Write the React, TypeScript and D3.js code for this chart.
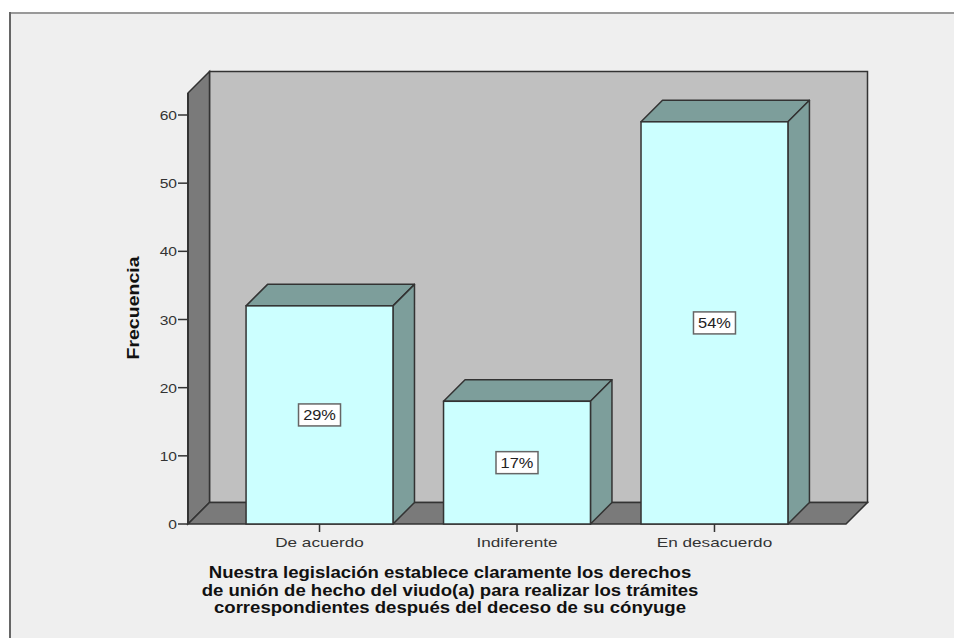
import React, { useRef, useEffect } from 'react';
import * as d3 from 'd3';

const categories = ['De acuerdo', 'Indiferente', 'En desacuerdo'];
const counts = [32, 18, 59];
const percentLabels = ['29%', '17%', '54%'];
const yTicks = [0, 10, 20, 30, 40, 50, 60];
const yTitle = 'Frecuencia';
const xTitleLines = [
  'Nuestra legislación establece claramente los derechos',
  'de unión de hecho del viudo(a) para realizar los trámites',
  'correspondientes después del deceso de su cónyuge',
];

const W = 954;
const H = 638;

const App: React.FC = () => {
  const svgRef = useRef<SVGSVGElement>(null);

  useEffect(() => {
    if (!svgRef.current) return;
    const svg = d3.select(svgRef.current);
    svg.selectAll('*').remove();

    const font = '"Liberation Sans", Arial, sans-serif';
    const stroke = '#333';
    const depth = 21.5;

    // plot area (front plane)
    const left = 188;
    const right = 846;
    const base = 524;

    const y = d3.scaleLinear().domain([0, 60]).range([base, 115]);
    const x = d3.scaleBand<string>()
      .domain(categories)
      .range([left, right])
      .paddingInner(0.256)
      .paddingOuter(0.294);

    // text drawn a bit wider, like the original export
    const wideText = (tx: number, ty: number, sx: number, rotate = 0) =>
      svg.append('text')
        .attr('transform', `translate(${tx},${ty})${rotate ? ` rotate(${rotate})` : ''} scale(${sx},1)`)
        .style('font-family', font);

    // outer frame
    svg.append('rect')
      .attr('x', 10).attr('y', 13)
      .attr('width', W).attr('height', H)
      .attr('fill', '#efefef');
    svg.append('line')
      .attr('x1', 10).attr('y1', 13).attr('x2', W).attr('y2', 13)
      .attr('stroke', '#999').attr('stroke-width', 2);
    svg.append('line')
      .attr('x1', 10).attr('y1', 12).attr('x2', 10).attr('y2', H)
      .attr('stroke', '#666').attr('stroke-width', 2);

    const topY = 93;
    const poly = (pts: [number, number][]) => pts.map(p => p.join(',')).join(' ');

    // back wall
    svg.append('polygon')
      .attr('points', poly([[left + depth, topY - depth], [right + depth, topY - depth], [right + depth, base - depth], [left + depth, base - depth]]))
      .attr('fill', '#c0c0c0').attr('stroke', stroke).attr('stroke-width', 1.5);
    // left wall
    svg.append('polygon')
      .attr('points', poly([[left, topY], [left + depth, topY - depth], [left + depth, base - depth], [left, base]]))
      .attr('fill', '#7a7a7a').attr('stroke', stroke).attr('stroke-width', 1.5);
    // floor
    svg.append('polygon')
      .attr('points', poly([[left, base], [left + depth, base - depth], [right + depth, base - depth], [right, base]]))
      .attr('fill', '#7a7a7a').attr('stroke', stroke).attr('stroke-width', 1.5);

    // bars
    const bars = svg.append('g');
    categories.forEach((c, i) => {
      const x0 = x(c) as number;
      const x1 = x0 + x.bandwidth();
      const yt = y(counts[i]);
      const g = bars.append('g');
      g.append('polygon')
        .attr('points', poly([[x0, yt], [x0 + depth, yt - depth], [x1 + depth, yt - depth], [x1, yt]]))
        .attr('fill', '#7d9e9b').attr('stroke', stroke).attr('stroke-width', 1.5).attr('stroke-linejoin', 'round');
      g.append('polygon')
        .attr('points', poly([[x1, yt], [x1 + depth, yt - depth], [x1 + depth, base - depth], [x1, base]]))
        .attr('fill', '#7d9e9b').attr('stroke', stroke).attr('stroke-width', 1.5).attr('stroke-linejoin', 'round');
      g.append('rect')
        .attr('x', x0).attr('y', yt)
        .attr('width', x1 - x0).attr('height', base - yt)
        .attr('fill', '#ccffff').attr('stroke', stroke).attr('stroke-width', 1.5);

      // percent label
      const cx = (x0 + x1) / 2;
      const cy = (yt + base) / 2;
      g.append('rect')
        .attr('x', cx - 21).attr('y', cy - 11)
        .attr('width', 42).attr('height', 22)
        .attr('fill', '#fff').attr('stroke', '#666').attr('stroke-width', 1.5);
      wideText(cx, cy + 5, 1.17)
        .attr('text-anchor', 'middle')
        .style('font-size', '14px').style('fill', '#222')
        .text(percentLabels[i]);
    });

    // y axis
    svg.append('line')
      .attr('x1', left).attr('y1', topY).attr('x2', left).attr('y2', base)
      .attr('stroke', stroke).attr('stroke-width', 2);
    yTicks.forEach(t => {
      svg.append('line')
        .attr('x1', left - 10).attr('x2', left)
        .attr('y1', y(t)).attr('y2', y(t))
        .attr('stroke', stroke).attr('stroke-width', 1.5);
      wideText(left - 11, y(t) + 5, 1.2)
        .attr('text-anchor', 'end')
        .style('font-size', '13px').style('fill', '#333')
        .text(t);
    });

    // x axis
    categories.forEach(c => {
      const cx = (x(c) as number) + x.bandwidth() / 2;
      svg.append('line')
        .attr('x1', cx).attr('x2', cx).attr('y1', base).attr('y2', base + 8)
        .attr('stroke', stroke).attr('stroke-width', 1.5);
      wideText(cx, base + 23, 1.32)
        .attr('text-anchor', 'middle')
        .style('font-size', '13px').style('fill', '#333')
        .text(c);
    });

    // axis titles
    wideText(139, 308, 1.22, -90)
      .attr('text-anchor', 'middle')
      .style('font-size', '16px').style('font-weight', 'bold').style('fill', '#111')
      .text(yTitle);

    xTitleLines.forEach((line, i) => {
      wideText(450, 578 + i * 17.5, 1.16)
        .attr('text-anchor', 'middle')
        .style('font-size', '16px').style('font-weight', 'bold').style('fill', '#111')
        .text(line);
    });
  }, []);

  return (
    <svg ref={svgRef} width={W} height={H} style={{ position: 'absolute', left: 0, top: 0, background: '#fff' }} />
  );
};

export default App;
